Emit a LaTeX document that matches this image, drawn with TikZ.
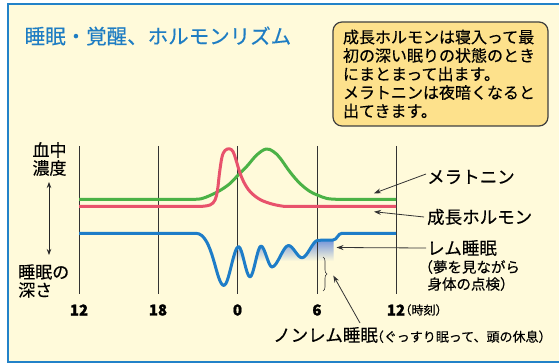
\documentclass[tikz,border=0pt]{standalone}
\usepackage{fontspec}
\setmainfont[FakeBold=0.35,BoldFeatures={FakeBold=1.2}]{Noto Sans CJK JP}
\usetikzlibrary{arrows.meta,decorations.pathreplacing}

\definecolor{paper}{RGB}{255,250,218}
\definecolor{frameblue}{RGB}{35,130,200}
\definecolor{titleblue}{RGB}{30,125,195}
\definecolor{notefill}{RGB}{253,225,140}
\definecolor{melagreen}{RGB}{75,178,70}
\definecolor{growthred}{RGB}{232,82,108}
\definecolor{sleepblue}{RGB}{30,125,200}
\definecolor{remblue}{RGB}{110,145,218}

\begin{document}
\begin{tikzpicture}[x=1pt,y=-1pt,
        rhythm/.style={line width=3pt,line join=round},
        hour/.style={draw=black!80,line width=0.9pt},
        tick/.style={inner sep=0pt,font=\fontsize{15}{16}\selectfont\bfseries},
        big/.style={inner sep=0pt,anchor=west,font=\fontsize{17.5}{18}\selectfont},
        pointer/.style={draw=black!80,line width=0.8pt,-{Stealth[length=7pt,width=5pt]}}]
        \useasboundingbox (0,0) rectangle (559,363);
        \clip (0,0) rectangle (559,363);
        % frame and title
        \filldraw[fill=paper,draw=frameblue,line width=2pt] (7.5,3.8) rectangle (580,361.5);
        \node[anchor=west,inner sep=0pt,text=titleblue,font=\fontsize{20.5}{24}\selectfont] at (24.5,36) (title) {睡眠・覚醒、ホルモンリズム};
        % note box
        \node[draw=black!75,fill=notefill,line width=1.2pt,rounded corners=9pt,minimum width=215pt,minimum height=104pt,inner xsep=10pt,text width=195pt,align=left,font=\fontsize{16}{18.5}\selectfont] at (440.5,74) (note) {成長ホルモンは寝入って最\\初の深い眠りの状態のとき\\にまとまって出ます。\\メラトニンは夜暗くなると\\出てきます。};
        % shading under the sleep waves
        \begin{scope}
            \clip (224,285.5) to[out=0,in=180,looseness=0.29] (238.5,246.5) to[out=0,in=180,looseness=0.3] (250,277) to[out=0,in=180,looseness=0.28] (261,246) to[out=0,in=180,looseness=0.39] (272,267) to[out=0,in=180,looseness=0.51] (288.5,245.5) to[out=0,in=180,looseness=0.63] (302,257.8) to[out=0,in=180,looseness=0.57] (318,240.3) -- (333.5,240) -- (333.5,300) -- (224,300) -- cycle;
            \shade[top color=remblue,bottom color=paper] (224,239) rectangle (334,261);
        \end{scope}
        % hour lines
        \foreach \x/\h in {79/12,158/18,237.5/0,317/6} {
            \draw[hour] (\x,146) -- (\x,294);
            \node[tick] at (\x,310) (t\h) {\h};
        }
        \draw[hour] (396,146) -- (396,294);
        \node[tick] at (396,310) (t24) {12};
        \node[anchor=west,inner sep=0pt,xshift=-6pt,font=\fontsize{12}{12}\selectfont] at (t24.east) (clock) {（時刻）};
        % melatonin
        \draw[rhythm,melagreen] (79,199.3) -- plot[smooth,tension=0.6] coordinates {(192,199.3) (201,198.8) (210,195.5) (220,190.5) (230,183.5) (237.7,175.5) (246.7,166.5) (256.7,155) (266,149) (273.3,151.5) (280,158) (290,172) (300,183.5) (310,191.5) (318,195.3) (327,198.5) (337,199.3)} -- (396,199.3);
        % growth hormone
        \draw[rhythm,growthred] (79,206.5) -- plot[smooth,tension=0.6] coordinates {(200,206.5) (210,205) (215,200) (217.5,190) (219.5,173) (222,157) (225,150.5) (229.3,148.8) (233,151.5) (236,160) (239.5,171.5) (243.5,181.5) (250,191.5) (260,199.5) (273,204.3) (285,206.5)} -- (396,206.5);
        % sleep depth
        \draw[rhythm,sleepblue] (79,233.3) -- (196,233.3) .. controls (213,233.3) and (216,285.5) .. (224,285.5) to[out=0,in=180,looseness=0.29] (238.5,246.5) to[out=0,in=180,looseness=0.3] (250,277) to[out=0,in=180,looseness=0.28] (261,246) to[out=0,in=180,looseness=0.39] (272,267) to[out=0,in=180,looseness=0.51] (288.5,245.5) to[out=0,in=180,looseness=0.63] (302,257.8) to[out=0,in=180,looseness=0.57] (318,240.3) -- (333,240) to[out=0,in=180] (342,233.3) -- (396,233.3);
        % left labels
        \node[big,align=left,font=\fontsize{17}{18}\selectfont] at (32.3,159) (conc) {血中\\濃度};
        \node[big,align=left,font=\fontsize{17}{18}\selectfont] at (18,281) (depth) {睡眠の\\深さ};
        \coordinate (deephi) at (49,182);
        \coordinate (deeplo) at (49,255);
        \draw[black!85,line width=0.8pt,{Stealth[length=6pt,width=4.5pt]}-{Stealth[length=6pt,width=4.5pt]}] (deephi) -- (deeplo);
        % right labels
        \node[big] at (427,177) (mela) {メラトニン};
        \node[big] at (427,217) (growth) {成長ホルモン};
        \node[big] at (427,248) (rem) {レム睡眠};
        \node[inner sep=0pt,anchor=west,align=left,font=\fontsize{14.5}{17}\selectfont] at (418.3,275.5) (remnote) {（夢を見ながら\\\hspace*{9pt}身体の点検）};
        \node[big] at (273,335) (nonrem) {ノンレム睡眠\kern-7pt{\fontsize{13}{14}\selectfont（ぐっすり眠って、頭の休息）}};
        % arrow ends
        \coordinate (melatip) at (374,193.3);
        \coordinate (growthtip) at (374,211.7);
        \coordinate (remtip) at (336.5,247.5);
        \coordinate (nonremfoot) at (360,323);
        \coordinate (nonremtip) at (333.3,275.5);
        \coordinate (bracetop) at (323,257);
        \coordinate (bracebot) at (323,291);
        % pointers
        \draw[pointer] ([shift={(-1,-3)}]mela.west) -- (melatip);
        \draw[pointer] ([xshift=-3pt]growth.west) -- (growthtip);
        \draw[pointer] ([xshift=-1pt]rem.west) -- (remtip);
        \draw[pointer] (nonremfoot) -- (nonremtip);
        \draw[black!80,line width=0.6pt,decorate,decoration={brace,amplitude=4pt}] (bracetop) -- (bracebot);
    \end{tikzpicture}
\end{document}
